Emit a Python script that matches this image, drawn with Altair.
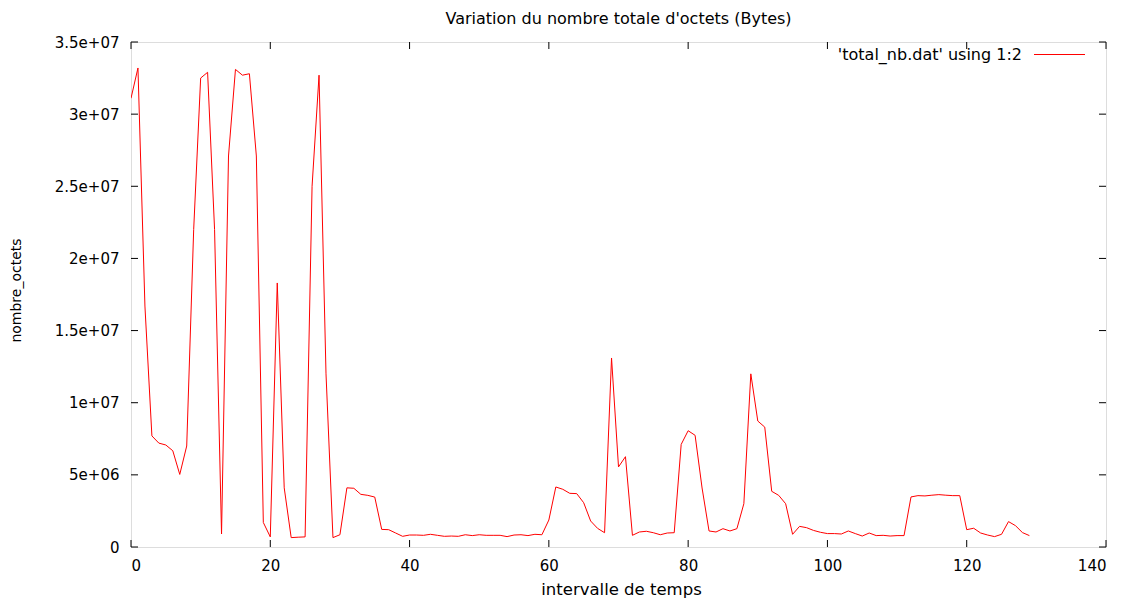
import json
import altair as alt
import pandas as pd

# ---- data -------------------------------------------------------------
intervals = list(range(130))
octets_millions = [
    31.1, 33.2, 16.7, 7.7, 7.2, 7.07, 6.67, 5.03, 7.0, 22.0,
    32.5, 32.9, 22.0, 0.9, 27.1, 33.1, 32.7, 32.8, 27.1, 1.7,
    0.7, 18.3, 4.1, 0.65, 0.68, 0.7, 25.0, 32.7, 12.0, 0.65,
    0.85, 4.1, 4.07, 3.65, 3.58, 3.46, 1.22, 1.2, 0.97, 0.74,
    0.83, 0.83, 0.81, 0.88, 0.81, 0.74, 0.76, 0.74, 0.85, 0.79,
    0.85, 0.81, 0.81, 0.81, 0.72, 0.83, 0.85, 0.79, 0.88, 0.85,
    1.87, 4.16, 4.0, 3.72, 3.7, 3.07, 1.8, 1.29, 0.99, 13.1,
    5.55, 6.26, 0.81, 1.04, 1.09, 0.99, 0.85, 0.97, 0.99, 7.11,
    8.06, 7.74, 4.09, 1.11, 1.04, 1.27, 1.11, 1.27, 3.0, 12.0,
    8.73, 8.31, 3.86, 3.58, 3.0, 0.88, 1.43, 1.34, 1.15, 1.02,
    0.93, 0.93, 0.9, 1.11, 0.93, 0.76, 0.97, 0.79, 0.81, 0.76,
    0.79, 0.79, 3.47, 3.56, 3.54, 3.59, 3.63, 3.59, 3.56, 3.56,
    1.2, 1.3, 0.97, 0.83, 0.72, 0.88, 1.76, 1.48, 1.0, 0.79,
]
x_ticks = [0, 20, 40, 60, 80, 100, 120, 140]
y_ticks = [0, 5e6, 1e7, 1.5e7, 2e7, 2.5e7, 3e7, 3.5e7]
y_tick_labels = ["0", "5e+06", "1e+07", "1.5e+07", "2e+07", "2.5e+07", "3e+07", "3.5e+07"]
series_label = ["'total_nb.dat' using 1:2"]

title_text = "Variation du nombre totale d'octets (Bytes)"
x_title = "intervalle de temps"
y_title = "nombre_octets"

# ---- layout -----------------------------------------------------------
W, H = 975, 505
FONT = "DejaVu Sans"
TICK = 7

df = pd.DataFrame({"t": intervals, "v": [v * 1e6 for v in octets_millions]})
xt = pd.DataFrame({"t": x_ticks})
yt = pd.DataFrame({"v": y_ticks})
leg = pd.DataFrame({"label": series_label})

xscale = alt.Scale(domain=[0, 140], nice=False, zero=False)
yscale = alt.Scale(domain=[0, 3.5e7], nice=False)

label_expr = json.dumps(y_tick_labels) + "[round(datum.value / 5000000)]"

line = alt.Chart(df).mark_line(color="#ff0000", strokeWidth=1, clip=True).encode(
    x=alt.X("t:Q", scale=xscale,
            axis=alt.Axis(values=x_ticks, title=x_title, grid=False, domain=False,
                          ticks=False, labelPadding=11, labelFontSize=15,
                          labelFont=FONT, labelColor="#000",
                          titleFont=FONT, titleFontSize=16.5, titleFontWeight="normal",
                          titleColor="#000", titleX=490, titleY=42,
                          titleBaseline="middle")),
    y=alt.Y("v:Q", scale=yscale,
            axis=alt.Axis(values=y_ticks, labelExpr=label_expr, title=y_title,
                          grid=False, domain=False, ticks=False, labelPadding=12,
                          labelFontSize=15, labelFont=FONT, labelColor="#000",
                          labelBaseline="middle",
                          titleFont=FONT, titleFontSize=14, titleFontWeight="normal",
                          titleColor="#000", titleX=-115, titleY=248,
                          titleBaseline="middle", titleAngle=270)),
)

tick_style = dict(color="#000", strokeWidth=1)
xb = alt.Chart(xt).mark_rule(**tick_style).encode(
    x=alt.X("t:Q", scale=xscale), y=alt.value(H), y2=alt.value(H - TICK))
xtop = alt.Chart(xt).mark_rule(**tick_style).encode(
    x=alt.X("t:Q", scale=xscale), y=alt.value(0), y2=alt.value(TICK))
yl = alt.Chart(yt).mark_rule(**tick_style).encode(
    y=alt.Y("v:Q", scale=yscale), x=alt.value(0), x2=alt.value(TICK))
yr = alt.Chart(yt).mark_rule(**tick_style).encode(
    y=alt.Y("v:Q", scale=yscale), x=alt.value(W), x2=alt.value(W - TICK))

leg_text = alt.Chart(leg).mark_text(
    align="right", baseline="middle", font=FONT, fontSize=16, color="#000"
).encode(text="label:N", x=alt.value(891), y=alt.value(13))
leg_line = alt.Chart(leg).mark_rule(color="#ff0000", strokeWidth=1).encode(
    x=alt.value(903), x2=alt.value(954), y=alt.value(12.5))

chart = alt.layer(line, xb, xtop, yl, yr, leg_text, leg_line).properties(
    width=W, height=H,
    title=alt.TitleParams(title_text, font=FONT, fontSize=16, fontWeight="normal",
                          color="#000", anchor="middle", offset=8),
    autosize=alt.AutoSizeParams(type="none"),
    padding={"left": 123, "top": 34, "right": 20, "bottom": 58},
).configure_view(stroke="#000", strokeWidth=1).configure(background="white")

chart.save("out.html", embed_options={"renderer": "svg", "actions": False})
